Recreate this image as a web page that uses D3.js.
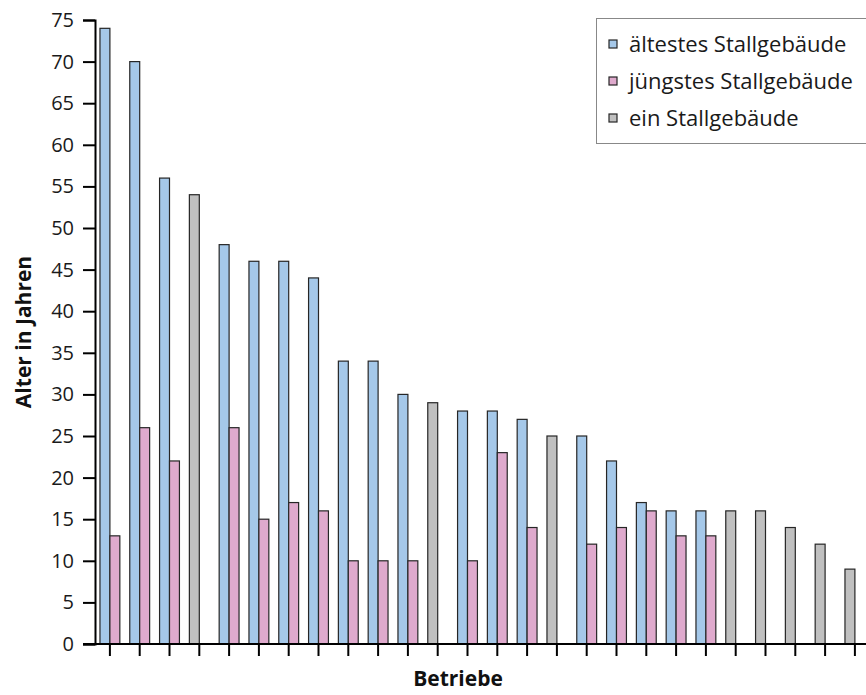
<!DOCTYPE html>
<html>
<head>
<meta charset="utf-8">
<script src="https://cdn.jsdelivr.net/npm/d3@7"></script>
<style>
  html, body { margin: 0; padding: 0; background: #fff; }
  svg { display: block; font-family: "Open Sans", sans-serif; }
</style>
</head>
<body>
<svg id="chart" width="866" height="695"></svg>
<script>
// Betriebe 1..26; each farm has either an oldest/youngest pair or a single stable
const betriebe = d3.range(1, 27).map(String);
const aeltestes = [74, 70, 56, null, 48, 46, 46, 44, 34, 34, 30, null, 28, 28, 27, null, 25, 22, 17, 16, 16, null, null, null, null, null];
const juengstes = [13, 26, 22, null, 26, 15, 17, 16, 10, 10, 10, null, 10, 23, 14, null, 12, 14, 16, 13, 13, null, null, null, null, null];
const einStall  = [null, null, null, 54, null, null, null, null, null, null, null, 29, null, null, null, 25, null, null, null, null, null, 16, 16, 14, 12, 9];
const yTicks = d3.range(0, 80, 5);

const seriesNames = ["ältestes Stallgebäude", "jüngstes Stallgebäude", "ein Stallgebäude"];
const colors = ["#a5c8e9", "#dfaacd", "#c0c0c0"];

const svg = d3.select("#chart");

const x = d3.scaleBand().domain(betriebe).range([95, 95 + 26 * 29.8]).padding(0);
const y = d3.scaleLinear().domain([0, 75]).range([644, 20]);
const bw = x.bandwidth() / 3;
const center = d => x(d) + x.bandwidth() / 2;

// bars: left slot holds oldest or single stable, right slot the youngest
const bars = [];
betriebe.forEach((b, i) => {
  if (aeltestes[i] != null) bars.push({ b, v: aeltestes[i], s: 0, off: -bw });
  if (juengstes[i] != null) bars.push({ b, v: juengstes[i], s: 1, off: 0 });
  if (einStall[i] != null) bars.push({ b, v: einStall[i], s: 2, off: -bw });
});

svg.append("g").selectAll("rect").data(bars).join("rect")
  .attr("x", d => center(d.b) + d.off)
  .attr("y", d => y(d.v))
  .attr("width", bw)
  .attr("height", d => y(0) - y(d.v))
  .attr("fill", d => colors[d.s])
  .attr("stroke", "#262626")
  .attr("stroke-width", 1.2);

// y axis
const yAxis = svg.append("g").attr("transform", "translate(95,0)")
  .call(d3.axisLeft(y).tickValues(yTicks).tickSize(12).tickSizeOuter(12).tickPadding(9));
yAxis.selectAll("path, line").attr("stroke", "#000").attr("stroke-width", 2);
yAxis.selectAll("text").attr("font-size", 20).attr("fill", "#1a1a1a")
  .attr("font-family", "'Open Sans', sans-serif");

// x axis: tick marks only, baseline runs across the plot
const xAxis = svg.append("g").attr("transform", `translate(0,${y(0)})`)
  .call(d3.axisBottom(x).tickSize(12).tickSizeOuter(0).tickFormat(""));
xAxis.select(".domain").remove();
xAxis.selectAll("line").attr("stroke", "#000").attr("stroke-width", 2);
svg.append("line")
  .attr("x1", 83).attr("x2", 866)
  .attr("y1", y(0)).attr("y2", y(0))
  .attr("stroke", "#000").attr("stroke-width", 2);

// axis titles
svg.append("text")
  .attr("x", 458).attr("y", 686)
  .attr("text-anchor", "middle")
  .attr("font-size", 21).attr("font-weight", 700).attr("fill", "#111")
  .text("Betriebe");
svg.append("text")
  .attr("transform", "translate(31,332) rotate(-90)")
  .attr("text-anchor", "middle")
  .attr("font-size", 21).attr("font-weight", 700).attr("fill", "#111")
  .text("Alter in Jahren");

// legend
const lg = svg.append("g");
lg.append("rect")
  .attr("x", 596.5).attr("y", 18.5).attr("width", 290).attr("height", 125)
  .attr("fill", "#fff").attr("stroke", "#888").attr("stroke-width", 1);
seriesNames.forEach((name, i) => {
  const cy = 44 + i * 37;
  lg.append("rect")
    .attr("x", 609).attr("y", cy - 4).attr("width", 8).attr("height", 8)
    .attr("fill", colors[i]).attr("stroke", "#262626").attr("stroke-width", 1.2);
  lg.append("text")
    .attr("x", 629).attr("y", cy).attr("dy", "0.35em")
    .attr("font-size", 22).attr("fill", "#1a1a1a")
    .text(name);
});
</script>
</body>
</html>
